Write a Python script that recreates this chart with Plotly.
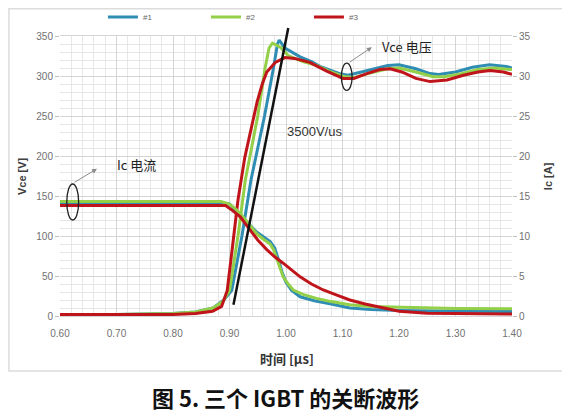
"""
IGBT turn-off waveforms of three devices: Vce (left axis) and Ic (right axis).
"""

import plotly.graph_objects as go

# ---- data ----
names = ["#1", "#2", "#3"]
colors = ["#2f8db3", "#93cf48", "#c0141b"]

# Vce [V] vs time [us]
vce1_t = [0.60, 0.70, 0.80, 0.84, 0.871, 0.89, 0.904, 0.922, 0.938, 0.962, 0.977,
          0.985, 0.988, 0.998, 1.025, 1.045, 1.060, 1.095, 1.110, 1.140, 1.180,
          1.200, 1.230, 1.255, 1.270, 1.300, 1.330, 1.360, 1.390, 1.400]
vce1_v = [2, 2, 3, 5, 10, 20, 32, 100, 170, 250, 307,
          340, 345, 335, 324, 318, 312, 303, 301, 306, 313,
          314, 309, 303, 302, 305, 311, 314, 312, 310]

vce2_t = [0.60, 0.70, 0.80, 0.84, 0.871, 0.888, 0.900, 0.915, 0.928, 0.950, 0.963,
          0.970, 0.976, 0.990, 1.005, 1.030, 1.055, 1.080, 1.105, 1.120, 1.145,
          1.180, 1.200, 1.230, 1.260, 1.280, 1.310, 1.340, 1.370, 1.400]
vce2_v = [2, 2, 3, 5, 10, 18, 32, 100, 170, 250, 310,
          335, 341, 336, 325, 318, 313, 305, 299, 298, 303,
          309, 310, 305, 299, 299, 303, 308, 310, 308]

vce3_t = [0.60, 0.70, 0.80, 0.84, 0.87, 0.886, 0.896, 0.905, 0.915, 0.927, 0.940,
          0.949, 0.958, 0.966, 0.981, 0.998, 1.015, 1.042, 1.072, 1.101, 1.120,
          1.143, 1.166, 1.184, 1.205, 1.230, 1.255, 1.285, 1.314, 1.340, 1.361,
          1.385, 1.400]
vce3_v = [2, 2, 2, 3, 6, 12, 32, 85, 145, 198, 239,
          268, 290, 305, 317, 323, 322, 317, 306, 297, 297,
          303, 308, 309, 305, 297, 293, 295, 301, 305, 307,
          305, 302]

# Ic [A] vs time [us]
ic1_t = [0.60, 0.70, 0.80, 0.88, 0.90, 0.924, 0.948, 0.972, 0.980, 0.986, 0.993,
         1.000, 1.010, 1.025, 1.050, 1.080, 1.113, 1.150, 1.200, 1.300, 1.400]
ic1_a = [14.1, 14.1, 14.1, 14.1, 14.0, 12.3, 10.5, 9.3, 8.5, 7.2, 5.5,
         4.2, 3.2, 2.4, 1.9, 1.5, 1.0, 0.8, 0.7, 0.6, 0.55]

ic2_t = [0.60, 0.70, 0.80, 0.885, 0.900, 0.912, 0.924, 0.936, 0.948, 0.960, 0.972,
         0.978, 0.984, 0.990, 0.995, 1.005, 1.013, 1.030, 1.054, 1.080, 1.113,
         1.150, 1.200, 1.300, 1.400]
ic2_a = [14.3, 14.3, 14.3, 14.3, 14.0, 13.3, 12.4, 11.3, 10.3, 9.6, 9.0,
         8.3, 7.0, 5.8, 4.9, 3.9, 3.25, 2.7, 2.2, 1.8, 1.4,
         1.2, 1.1, 0.95, 0.9]

ic3_t = [0.60, 0.70, 0.80, 0.893, 0.905, 0.919, 0.936, 0.950, 0.966, 0.980, 0.995,
         1.010, 1.025, 1.045, 1.066, 1.090, 1.113, 1.140, 1.172, 1.200, 1.250,
         1.300, 1.400]
ic3_a = [13.8, 13.8, 13.8, 13.8, 13.2, 12.4, 10.8, 9.5, 8.3, 7.4, 6.6,
         5.7, 4.9, 4.0, 3.25, 2.6, 2.0, 1.5, 1.0, 0.6, 0.35,
         0.3, 0.25]

x_ticks = [0.60, 0.70, 0.80, 0.90, 1.00, 1.10, 1.20, 1.30, 1.40]
vce_ticks = [0, 50, 100, 150, 200, 250, 300, 350]
ic_ticks = [0, 5, 10, 15, 20, 25, 30, 35]

# slope guide line (3500 V/us), endpoints in data units
slope_t = [0.907, 1.004]
slope_v = [14, 360]

X_RANGE = [0.60, 1.40]
V_RANGE = [0, 350]

vce_sets = [(vce1_t, vce1_v), (vce2_t, vce2_v), (vce3_t, vce3_v)]
ic_sets = [(ic1_t, ic1_a), (ic2_t, ic2_a), (ic3_t, ic3_a)]

GRID = "#d4d4d4"
MINOR = "#e6e6e6"
TICKFONT = dict(family="Liberation Sans, Arial", size=10, color="#707070")
CJK = "Noto Sans CJK SC"


def to_paper(t, v):
    px = (t - X_RANGE[0]) / (X_RANGE[1] - X_RANGE[0])
    py = (v - V_RANGE[0]) / (V_RANGE[1] - V_RANGE[0])
    return px, py


fig = go.Figure()

for (t, v), name, col in zip(vce_sets, names, colors):
    fig.add_trace(
        go.Scatter(
            x=t, y=v, mode="lines", name=name, legendgroup=name,
            line=dict(color=col, width=3),
        )
    )

for (t, a), name, col in zip(ic_sets, names, colors):
    fig.add_trace(
        go.Scatter(
            x=t, y=a, mode="lines", name=name, legendgroup=name,
            showlegend=False, yaxis="y2",
            line=dict(color=col, width=3),
        )
    )

# black slope line, drawn in paper space so it may run past the top edge
p0 = to_paper(slope_t[0], slope_v[0])
p1 = to_paper(slope_t[1], slope_v[1])
fig.add_shape(
    type="line", xref="paper", yref="paper",
    x0=p0[0], y0=p0[1], x1=p1[0], y1=p1[1],
    line=dict(color="#111111", width=2.5),
)

# ellipses marking the two signal groups
fig.add_shape(type="circle", xref="x", yref="y",
              x0=1.098, x1=1.117, y0=282, y1=316,
              line=dict(color="#222222", width=1.3))
fig.add_shape(type="circle", xref="x", yref="y",
              x0=0.612, x1=0.633, y0=120, y1=165,
              line=dict(color="#222222", width=1.3))

# outer frame
fig.add_shape(type="rect", xref="paper", yref="paper",
              x0=-0.113, x1=1.113, y0=-0.196, y1=1.097,
              line=dict(color="#dcdcdc", width=1.5), layer="below")

# arrows
fig.add_annotation(x=1.152, y=336, ax=1.110, ay=316, xref="x", yref="y",
                   axref="x", ayref="y", text="", showarrow=True,
                   arrowhead=2, arrowsize=1, arrowwidth=1, arrowcolor="#8a8a8a")
fig.add_annotation(x=0.6655, y=184, ax=0.623, ay=166, xref="x", yref="y",
                   axref="x", ayref="y", text="", showarrow=True,
                   arrowhead=2, arrowsize=1, arrowwidth=1, arrowcolor="#8a8a8a")

# labels
fig.add_annotation(x=1.166, y=337, xref="x", yref="y", text="Vce 电压",
                   showarrow=False, xanchor="left", yanchor="middle",
                   font=dict(family=CJK, size=13, color="#222222"))
fig.add_annotation(x=0.697, y=189, xref="x", yref="y", text="Ic 电流",
                   showarrow=False, xanchor="left", yanchor="middle",
                   font=dict(family=CJK, size=13, color="#222222"))
fig.add_annotation(x=0.9985, y=231, xref="x", yref="y", text="3500V/us",
                   showarrow=False, xanchor="left", yanchor="middle",
                   font=dict(family="Liberation Sans, Arial", size=13, color="#333333"))

# axis titles
fig.add_annotation(x=-0.084, y=0.5, xref="paper", yref="paper", text="<b>Vce [V]</b>",
                   showarrow=False, textangle=-90, xanchor="center", yanchor="middle",
                   font=dict(family="Liberation Sans, Arial", size=11, color="#404040"))
fig.add_annotation(x=1.08, y=0.5, xref="paper", yref="paper", text="<b>Ic [A]</b>",
                   showarrow=False, textangle=-90, xanchor="center", yanchor="middle",
                   font=dict(family="Liberation Sans, Arial", size=11, color="#404040"))
fig.add_annotation(x=0.502, y=-0.15, xref="paper", yref="paper", text="<b>时间 [µs]</b>",
                   showarrow=False, xanchor="center", yanchor="middle",
                   font=dict(family=CJK, size=13, color="#333333"))

# caption
fig.add_annotation(x=0.498, y=-0.289, xref="paper", yref="paper",
                   text="<b>图 5. 三个 IGBT 的关断波形</b>", showarrow=False,
                   xanchor="center", yanchor="middle",
                   font=dict(family=CJK, size=22, color="#111111"))

# the page adds an 8 px body margin, so the figure is trimmed by that much
fig.update_layout(
    width=562,
    height=405,
    margin=dict(l=52, r=58, t=28, b=97, autoexpand=False),
    paper_bgcolor="white",
    plot_bgcolor="white",
    showlegend=True,
    legend=dict(
        orientation="h", x=0.095, y=1.068, xanchor="left", yanchor="middle",
        font=dict(family="Liberation Sans, Arial", size=8, color="#666666"),
        entrywidth=58, entrywidthmode="pixels", bgcolor="rgba(0,0,0,0)",
    ),
    xaxis=dict(
        range=X_RANGE, tickvals=x_ticks, tickformat=".2f",
        showgrid=True, gridcolor=GRID, gridwidth=1,
        minor=dict(dtick=0.02, showgrid=True, gridcolor=MINOR),
        showline=True, linecolor=GRID, mirror=True,
        ticks="", ticklabelstandoff=8, tickfont=TICKFONT, zeroline=False,
    ),
    yaxis=dict(
        range=V_RANGE, tickvals=vce_ticks,
        showgrid=True, gridcolor=GRID, gridwidth=1,
        minor=dict(dtick=10, showgrid=True, gridcolor=MINOR),
        showline=False,
        ticks="outside", ticklen=4, tickcolor="#bfbfbf", tickfont=TICKFONT,
        zeroline=False,
    ),
    yaxis2=dict(
        range=[0, 35], tickvals=ic_ticks, overlaying="y", side="right",
        showgrid=False, ticks="outside", ticklen=4, tickcolor="#bfbfbf",
        tickfont=TICKFONT, zeroline=False,
    ),
)

fig.write_html("out.html")
